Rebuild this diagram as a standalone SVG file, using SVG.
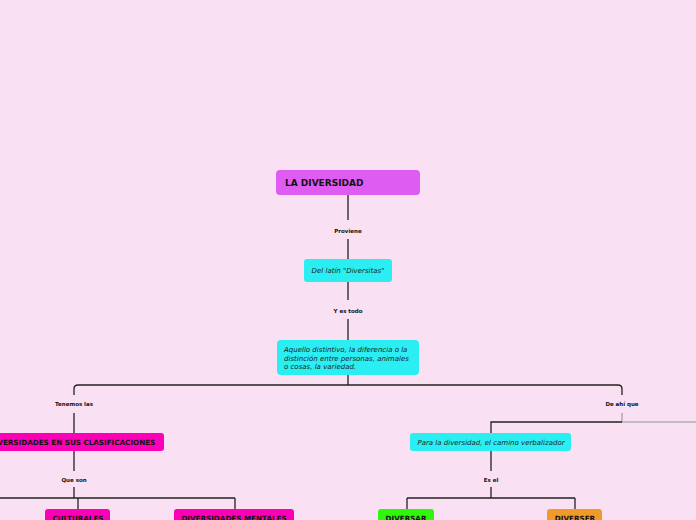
<svg xmlns="http://www.w3.org/2000/svg" width="696" height="520" viewBox="0 0 696 520">
<style>
.lbl{font-family:"DejaVu Sans",Verdana,sans-serif;font-size:5.5px;font-weight:bold;fill:#111;text-anchor:middle}
.b{font-family:"DejaVu Sans",Verdana,sans-serif;font-size:7.2px;font-weight:bold;fill:#111;text-anchor:middle}
.i{font-family:"DejaVu Sans",Verdana,sans-serif;font-size:7px;font-style:italic;fill:#222}
.c{stroke:#222;stroke-width:1.3;fill:none}
.g{stroke:#b0b0b0;stroke-width:1.6;fill:none}
.cy{fill:#2aeef2}
.mg{fill:#fc00b8}
</style>
<rect width="696" height="520" fill="#f9e0f2"/>
<g id="connectors">
<path class="c" d="M348 195V220M348 239V259M348 282V300M348 319V340M348 375V385"/>
<path class="c" d="M74 395V389Q74 385 78 385H618Q622 385 622 389V395"/>
<path class="c" d="M74 413V433M74 451V471M74 487V498M0 498H235M78 498V509M235 498V509"/>
<path class="g" d="M622 413V422H696"/>
<path class="c" d="M622 422H491V433M491 451V471M491 487V498M407 498H575M407 498V509M575 498V509"/>
</g>
<g class="lbl">
<text x="348" y="233">Proviene</text>
<text x="348" y="313">Y es todo</text>
<text x="74" y="406">Tenemos las</text>
<text x="74" y="482">Que son</text>
<text x="622" y="406">De ahí que</text>
<text x="491" y="482">Es el</text>
</g>
<g id="n-root"><rect x="276" y="170" width="144" height="25" rx="4" fill="#de5cf2"/><text x="285" y="186" style="font-family:'DejaVu Sans',Verdana,sans-serif;font-size:9px;font-weight:bold;fill:#111">LA DIVERSIDAD</text></g>
<g id="n-latin"><rect class="cy" x="304" y="259" width="88" height="23" rx="3"/><text class="i" x="348" y="273" text-anchor="middle">Del latín "Diversitas"</text></g>
<g id="n-aquello"><rect class="cy" x="277" y="340" width="142" height="35" rx="4"/><text class="i" x="284" y="352">Aquello distintivo, la diferencia o la</text><text class="i" x="284" y="360.5">distinción entre personas, animales</text><text class="i" x="284" y="369">o cosas, la variedad.</text></g>
<g id="n-clasif"><rect class="mg" x="-20" y="433" width="184" height="18" rx="3"/><text class="b" x="72" y="445">DIVERSIDADES EN SUS CLASIFICACIONES</text></g>
<g id="n-para"><rect class="cy" x="410" y="433" width="161" height="18" rx="3"/><text class="i" x="491" y="445" text-anchor="middle">Para la diversidad, el camino verbalizador</text></g>
<g id="n-cult"><rect class="mg" x="45" y="509" width="65" height="18" rx="3"/><text class="b" x="78" y="521">CULTURALES</text></g>
<g id="n-ment"><rect class="mg" x="174" y="509" width="120" height="18" rx="3"/><text class="b" x="234" y="521">DIVERSIDADES MENTALES</text></g>
<g id="n-diversar"><rect x="378" y="509" width="56" height="18" rx="3" fill="#2ef70c"/><text class="b" x="406" y="521">DIVERSAR</text></g>
<g id="n-diverser"><rect x="547" y="509" width="55" height="18" rx="3" fill="#f09a2a"/><text class="b" x="575" y="521">DIVERSER</text></g>
</svg>
